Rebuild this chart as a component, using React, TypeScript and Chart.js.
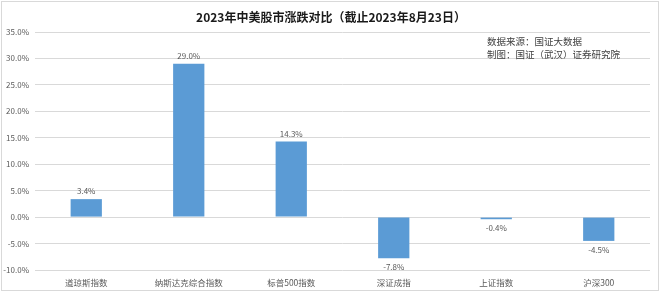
import React, { useEffect, useRef } from "react";
import { Chart, registerables } from "chart.js";

Chart.register(...registerables);

const categories = ["道琼斯指数", "纳斯达克综合指数", "标普500指数", "深证成指", "上证指数", "沪深300"];
const changes = [3.4, 29.0, 14.3, -7.8, -0.4, -4.5];
const yMin = -10;
const yMax = 35;
const yStep = 5;
const titleText = "2023年中美股市涨跌对比（截止2023年8月23日）";
const noteLines = ["数据来源：国证大数据", "制图：国证（武汉）证券研究院"];

const FONT = "'Noto Sans CJK SC', 'Noto Sans', sans-serif";

export default function App() {
  const ref = useRef<HTMLCanvasElement | null>(null);

  useEffect(() => {
    const canvas = ref.current;
    if (!canvas) return;

    const decor = {
      id: "decor",
      beforeDraw(chart: any) {
        const ctx = chart.ctx;
        ctx.save();
        ctx.fillStyle = "#ffffff";
        ctx.fillRect(0, 0, chart.width, chart.height);
        ctx.restore();
      },
      afterDraw(chart: any) {
        const ctx = chart.ctx;
        ctx.save();
        ctx.strokeStyle = "#d9d9d9";
        ctx.lineWidth = 1;
        ctx.strokeRect(1.5, 1.5, chart.width - 3, chart.height - 3);
        ctx.fillStyle = "#1a1a1a";
        ctx.font = `bold 12px ${FONT}`;
        ctx.textAlign = "center";
        ctx.textBaseline = "middle";
        ctx.fillText(titleText, 331, 17);
        ctx.fillStyle = "#404040";
        ctx.font = `9.5px ${FONT}`;
        ctx.textAlign = "left";
        noteLines.forEach((t, i) => ctx.fillText(t, 487, 41 + i * 13));
        ctx.restore();
      },
      afterDatasetsDraw(chart: any) {
        const ctx = chart.ctx;
        const meta = chart.getDatasetMeta(0);
        ctx.save();
        ctx.fillStyle = "#595959";
        ctx.font = `8px ${FONT}`;
        ctx.textAlign = "center";
        ctx.textBaseline = "middle";
        meta.data.forEach((bar: any, i: number) => {
          const v = changes[i];
          const label = v.toFixed(1) + "%";
          const y = v >= 0 ? bar.y - 8 : bar.y + 9;
          ctx.fillText(label, bar.x, y);
        });
        ctx.restore();
      },
    };

    const chart = new Chart(canvas, {
      type: "bar",
      data: {
        labels: categories,
        datasets: [
          {
            data: changes,
            backgroundColor: "#5b9bd5",
            borderWidth: 0,
            categoryPercentage: 1,
            barPercentage: 0.305,
          },
        ],
      },
      options: {
        responsive: false,
        animation: false,
        devicePixelRatio: 1,
        layout: { padding: { top: 32, right: 10, bottom: 0, left: 0 } },
        plugins: {
          legend: { display: false },
          tooltip: { enabled: false },
          title: { display: false },
        },
        scales: {
          x: {
            grid: { display: false },
            border: { display: false },
            ticks: {
              color: "#595959",
              font: { size: 8.5, family: FONT },
              padding: 0,
              maxRotation: 0,
              autoSkip: false,
            },
            afterFit(scale: any) {
              scale.height = 22;
            },
          },
          y: {
            min: yMin,
            max: yMax,
            grid: { color: "#d9d9d9", drawTicks: false, lineWidth: 1 },
            border: { display: false },
            ticks: {
              stepSize: yStep,
              color: "#595959",
              font: { size: 8, family: FONT },
              padding: 6,
              callback: (v: any) => Number(v).toFixed(1) + "%",
            },
            afterFit(scale: any) {
              scale.width = 35;
            },
          },
        },
      },
      plugins: [decor],
    });

    return () => chart.destroy();
  }, []);

  return (
    <div style={{ position: "absolute", left: 0, top: 0, width: 660, height: 292 }}>
      <canvas ref={ref} width={660} height={292} style={{ display: "block" }} />
    </div>
  );
}
